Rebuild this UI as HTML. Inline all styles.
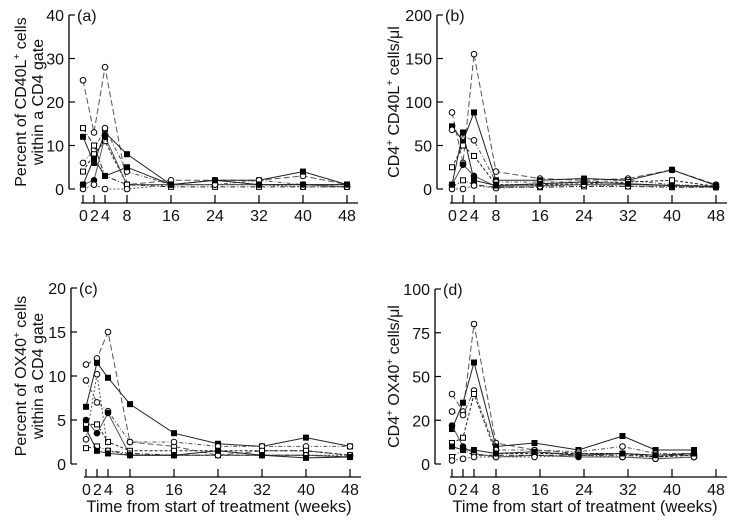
<!DOCTYPE html>
<html><head><meta charset="utf-8"><style>
html,body{margin:0;padding:0;background:#fff;}
svg{display:block;font-family:"Liberation Sans",sans-serif;}
</style></head><body>
<svg id="fig" width="734" height="523" viewBox="0 0 734 523"></svg>
<script>
const weeks = [0,2,4,8,16,24,32,40,48];
const xTicks = [0,2,4,8,16,24,32,40,48];
// panel a: % CD40L+
const aSeries = [
 [25,13,28,1,2,2,2,3,1],[12,6,13,8,1,2,2,4,1],[6,9,14,4,1,1,2,1,0.5],[4,8,11,1,1,1,1,1,1],
 [1,2,12,1,1,1,1,1,0.5],[14,10,3,1,0.5,0.5,0.5,0.5,0.5],[0,1,0,0,1,1,1,0.5,0.5],[1,7,3,5,1,2,1,1,1]];
// panel b: CD40L+ cells/ul
const bSeries = [
 [88,30,155,20,12,10,12,22,5],[72,55,88,10,10,12,10,22,4],[68,60,56,8,8,8,10,5,3],
 [25,50,38,5,5,6,8,10,3],[5,28,15,3,4,5,5,4,2],[2,10,5,2,2,3,3,2,2],[0,0,4,1,3,5,3,3,2],[5,65,10,4,6,8,6,4,3]];
// panel c: % OX40+
const cSeries = [
 [11.3,12,15,2.5,2,1,1.5,1.5,1],[6.5,11.5,9.8,6.8,3.5,2.3,2,3,2],[9.5,7,6,2.5,2.5,2,2,2,2],
 [4.5,4.5,2.5,1.5,1.5,1.5,1.5,1.5,1],[5,3.5,5.8,1,1,1,1,1,0.8],[1.8,2,1.5,1.2,1,1,1,1,0.8],
 [2.8,10.2,1.5,1,1,1,1,1,1],[4,1.5,1.2,1,1,1.5,1,0.7,0.8]];
// panel d: OX40+ cells/ul
const dWeeks = [0,2,4,8,15,23,31,37,44];
const dSeries = [
 [40,30,80,12,8,6,6,5,5],[20,35,58,10,12,8,16,8,8],[30,28,42,8,8,7,10,6,6],
 [12,15,40,6,6,6,6,4,5],[22,10,6,4,5,4,4,3,4],[4,8,5,5,5,5,5,4,6],[2,3,4,4,4,5,4,3,4],[10,8,8,6,7,5,6,5,6]];
const panels = [
 {id:'a', x0:69, zx:83, sx:5.5, top:15, bot:189, axY:203, max:40, ticks:[0,10,20,30,40], tl:[0,10,20,30,40], series:aSeries, wk:weeks,
  yl:['Percent of CD40L<tspan dy="-6" font-size="10">+</tspan><tspan dy="6"> cells</tspan>','within a CD4 gate'], ylx:[26,43], xl:false},
 {id:'b', x0:437, zx:452, sx:5.5, top:15, bot:189, axY:203, max:200, ticks:[0,50,100,150,200], tl:[0,50,100,150,200], series:bSeries, wk:weeks,
  yl:['CD4<tspan dy="-6" font-size="10">+</tspan><tspan dy="6"> CD40L</tspan><tspan dy="-6" font-size="10">+</tspan><tspan dy="6"> cells/μl</tspan>'], ylx:[399], xl:false},
 {id:'c', x0:71, zx:86, sx:5.5, top:288, bot:464, axY:477, max:20, ticks:[0,5,10,15,20], tl:[0,5,10,15,20], series:cSeries, wk:weeks,
  yl:['Percent of OX40<tspan dy="-6" font-size="10">+</tspan><tspan dy="6"> cells</tspan>','within a CD4 gate'], ylx:[26,43], xl:true},
 {id:'d', x0:435, zx:452, sx:5.5, top:289, bot:464, axY:477, max:100, ticks:[0,25,50,75,100], tl:[0,20,50,75,100], series:dSeries, wk:dWeeks,
  yl:['CD4<tspan dy="-6" font-size="10">+</tspan><tspan dy="6"> OX40</tspan><tspan dy="-6" font-size="10">+</tspan><tspan dy="6"> cells/μl</tspan>'], ylx:[399], xl:true}
];
const NS='http://www.w3.org/2000/svg';
const svg=document.getElementById('fig');
function mk(tag,attrs,parent){const e=document.createElementNS(NS,tag);for(const k in attrs)e.setAttribute(k,attrs[k]);(parent||svg).appendChild(e);return e;}
const dashes=['6,3','','4,2,1,2','3,2','','5,2,1,2','2,2',''];
panels.forEach(p=>{
  const g=mk('g',{});
  
  
  const xs=w=>p.zx+w*p.sx;
  const ys=v=>p.bot-(v/p.max)*(p.bot-p.top);
  const ya=mk('line',{x1:p.x0,y1:p.top,x2:p.x0,y2:p.bot,stroke:'#000','stroke-width':1.3},g);
  
  
  p.ticks.forEach((t,i)=>{
    mk('line',{x1:p.x0,y1:ys(t),x2:p.x0+6,y2:ys(t),stroke:'#000','stroke-width':1.2},g);
    const tx=mk('text',{x:p.x0-5,y:ys(t)+6,'text-anchor':'end','font-size':16,fill:'#111'},g);
    tx.textContent=p.tl[i];
    
    
  });
  const xa=mk('line',{x1:p.zx-2,y1:p.axY,x2:p.zx+275,y2:p.axY,stroke:'#000','stroke-width':1.3},g);
  
  
  xTicks.forEach(t=>{
    mk('line',{x1:xs(t),y1:p.axY,x2:xs(t),y2:p.axY-8,stroke:'#000','stroke-width':1.2},g);
    const tx=mk('text',{x:xs(t),y:p.axY+18,'text-anchor':'middle','font-size':16,fill:'#111','letter-spacing':t<8?'-1':'0'},g);
    tx.textContent=t;
    
    
  });
  const lab=mk('text',{x:p.x0+8,y:p.top+6,'font-size':16,fill:'#111'},g);
  lab.textContent='('+p.id+')';
  
  
  const cy=(p.top+p.bot)/2;
  p.yl.forEach((s,i)=>{
    const t=mk('text',{x:p.ylx[i],y:cy,transform:`rotate(-90 ${p.ylx[i]} ${cy})`,'text-anchor':'middle','font-size':16,fill:'#111'},g);
    t.innerHTML=s;
    
    
  });
  if(p.xl){
    const t=mk('text',{x:p.zx+133,y:p.axY+35,'text-anchor':'middle','font-size':16.5,fill:'#111'},g);
    t.textContent='Time from start of treatment (weeks)';
    
    
  }
  p.series.forEach((s,si)=>{
    const pts=s.map((v,i)=>xs(p.wk[i])+','+ys(v)).join(' ');
    const pl=mk('polyline',{points:pts,fill:'none',stroke:si%2?'#222':'#555','stroke-width':1,'stroke-dasharray':dashes[si]},g);
    
    
    s.forEach((v,i)=>{
      const filled=si%3===1;
      const m=si%2? mk('rect',{x:xs(p.wk[i])-2.5,y:ys(v)-2.5,width:5,height:5,fill:filled?'#000':'#fff',stroke:'#000','stroke-width':1},g)
                  : mk('circle',{cx:xs(p.wk[i]),cy:ys(v),r:2.8,fill:filled?'#000':'#fff',stroke:'#000','stroke-width':1},g);
      
      
    });
  });
});
</script>
</body></html>
